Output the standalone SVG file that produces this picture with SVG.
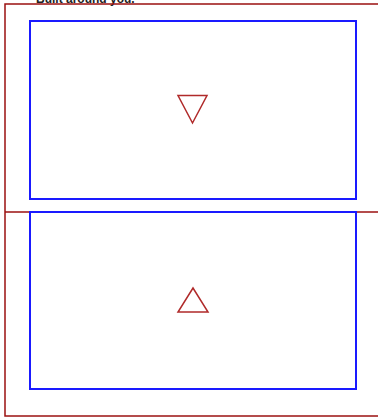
<svg xmlns="http://www.w3.org/2000/svg" width="378" height="417" viewBox="0 0 378 417">
<style>
.frame{fill:none;stroke:#9b1010;stroke-width:1.5}
.box{fill:none;stroke:#1a1aff;stroke-width:2}
.tri{fill:none;stroke:#b02a2a;stroke-width:1.5}
.title{font-family:"Liberation Sans",Arial,sans-serif;font-size:12px;font-weight:bold;fill:#222}
</style>
<text class="title" x="36" y="3">Built around you.</text>
<g id="frame">
<rect class="frame" x="5" y="4" width="400" height="412"/>
</g>
<g id="connectors">
<line class="frame" x1="5" y1="212" x2="378" y2="212"/>
</g>
<g id="panel-top">
<rect class="box" x="30" y="21" width="326" height="178"/>
<polygon class="tri" points="178,95.5 207,95.5 192.5,123"/>
</g>
<g id="panel-bottom">
<rect class="box" x="30" y="212" width="326" height="177"/>
<polygon class="tri" points="178,312 208,312 193,288"/>
</g>
</svg>
